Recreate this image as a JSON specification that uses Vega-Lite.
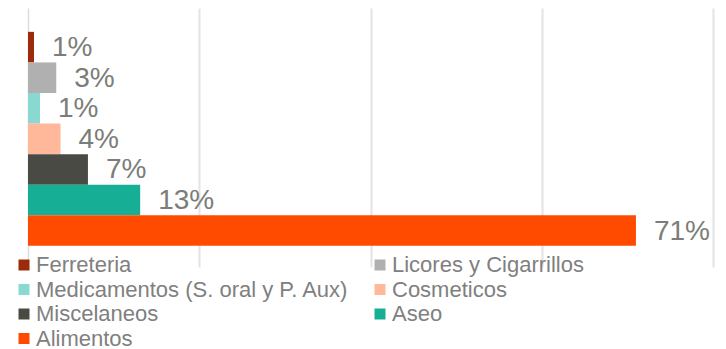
{
  "$schema": "https://vega.github.io/schema/vega-lite/v6.json",
  "width": 685,
  "height": 259,
  "autosize": {"type": "none"},
  "padding": {"left": 28, "top": 8, "right": 13, "bottom": 82},
  "background": "white",
  "config": {"view": {"stroke": null}, "font": "Liberation Sans"},
  "data": {
    "values": [
      {"cat": "Ferreteria", "v": 0.7, "label": "1%"},
      {"cat": "Licores y Cigarrillos", "v": 3.3, "label": "3%"},
      {"cat": "Medicamentos (S. oral y P. Aux)", "v": 1.4, "label": "1%"},
      {"cat": "Cosmeticos", "v": 3.8, "label": "4%"},
      {"cat": "Miscelaneos", "v": 7.0, "label": "7%"},
      {"cat": "Aseo", "v": 13.1, "label": "13%"},
      {"cat": "Alimentos", "v": 71.0, "label": "71%"}
    ]
  },
  "encoding": {
    "y": {
      "field": "cat", "type": "nominal", "sort": null,
      "scale": {"paddingInner": 0, "paddingOuter": 0.736, "align": 0.53},
      "axis": {"title": null, "labels": false, "ticks": false, "domainColor": "#dddddd", "domainWidth": 1.5}
    },
    "x": {
      "field": "v", "type": "quantitative",
      "scale": {"domain": [0, 80]},
      "axis": {"title": null, "labels": false, "ticks": false, "domain": false, "values": [20, 40, 60, 80], "gridColor": "#e3e3e3", "gridWidth": 2}
    }
  },
  "layer": [
    {
      "mark": {"type": "bar"},
      "encoding": {
        "color": {
          "field": "cat", "type": "nominal", "sort": null,
          "scale": {
            "domain": ["Ferreteria", "Licores y Cigarrillos", "Medicamentos (S. oral y P. Aux)", "Cosmeticos", "Miscelaneos", "Aseo", "Alimentos"],
            "range": ["#9c2b0b", "#b0b0b0", "#8ad9d0", "#ffb899", "#4a4a44", "#17ae96", "#ff4b00"]
          },
          "legend": {
            "orient": "none", "legendX": -15, "legendY": 246,
            "columns": 2, "direction": "horizontal", "title": null,
            "symbolType": "square", "symbolSize": 121, "symbolStrokeWidth": 0,
            "labelFontSize": 22, "labelColor": "#808080", "labelOffset": 1,
            "columnPadding": 20, "rowPadding": 2.5, "labelLimit": 400
          }
        }
      }
    },
    {
      "mark": {"type": "text", "align": "left", "baseline": "middle", "dx": 18, "dy": 1, "fontSize": 28, "color": "#7b7d78"},
      "encoding": {"text": {"field": "label"}}
    }
  ]
}
